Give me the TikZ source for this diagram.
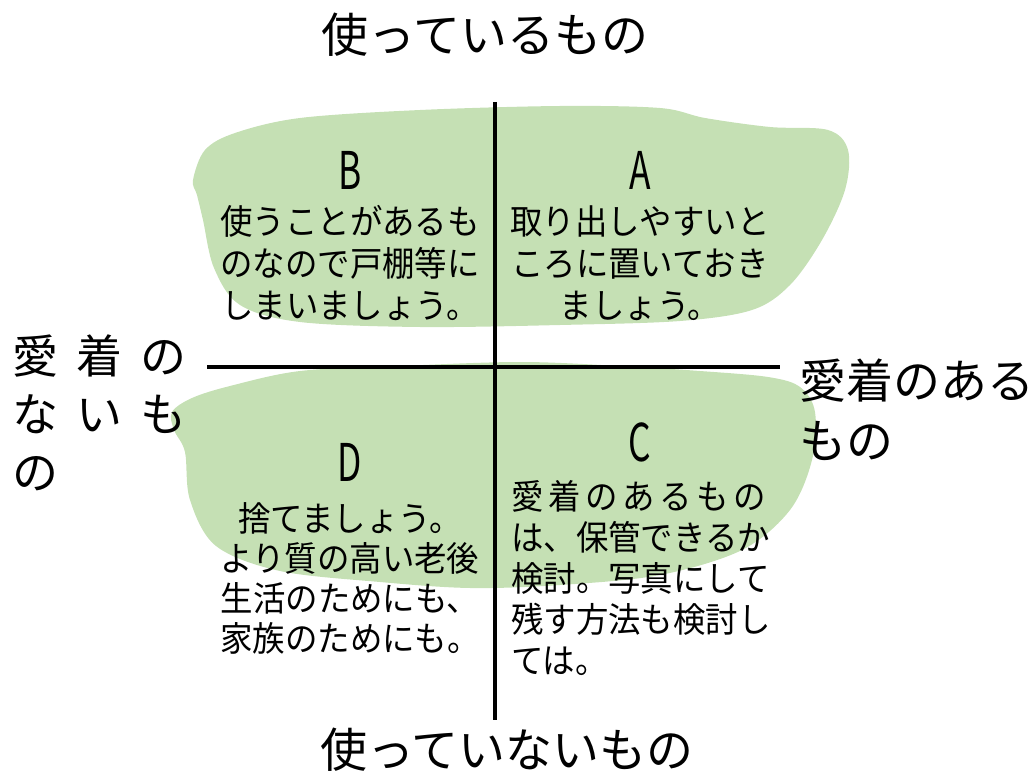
\documentclass[tikz,border=0pt]{standalone}
\usepackage{fontspec}
\newfontfamily\jp{Noto Sans CJK JP}
\newfontfamily\jpbox[FakeStretch=0.94]{Noto Sans CJK JP}
\newfontfamily\letterfont[FakeStretch=0.68]{Noto Sans CJK JP}
\definecolor{blobgreen}{HTML}{C5E0B4}
\begin{document}
\begin{tikzpicture}[x=1pt,y=-1pt,
  blob/.style={fill=blobgreen,draw=none},
  axis/.style={line width=3.5pt,black},
  title/.style={font=\jp\fontsize{47}{60}\selectfont,inner sep=0pt},
  letter/.style={font=\letterfont\fontsize{52}{52}\selectfont,inner sep=0pt},
  boxtext/.style={font=\jpbox\fontsize{34.5}{42}\selectfont,inner sep=0pt}]
\useasboundingbox (0,0) rectangle (1035,775);
% blobs
\fill[blob] plot[smooth cycle,tension=0.55] coordinates {
 (205,150) (235,133) (300,118) (420,110) (560,106) (660,108) (705,118)
 (770,127) (828,130) (848,150) (845,190) (822,240) (790,285) (752,310)
 (680,321) (560,325) (420,327) (300,322) (240,305) (214,268) (203,220)
 (197,195) (193,180)};
\fill[blob] plot[smooth cycle,tension=0.55] coordinates {
 (230,386) (300,371) (400,366) (520,362) (620,366) (700,371) (768,377)
 (800,387) (815,412) (812,460) (790,510) (742,550) (660,575) (560,585)
 (470,588) (380,582) (280,571) (216,546) (190,500) (185,452) (174,430)
 (172,412) (192,398)};
% axes
\coordinate (vtop) at (495,102);
\coordinate (vbot) at (495,720);
\coordinate (hleft) at (207,367);
\coordinate (hright) at (780,367);
\draw[axis] (vtop) -- (vbot);
\draw[axis] (hleft) -- (hright);
% axis labels
\node[title] (top) at (485,35) {使っているもの};
\node[title] (bottom) at (507,750) {使っていないもの};
\node[title,anchor=west,align=left] (right) at (799,410) {愛着のある\\もの};
\node[title,anchor=west,align=left,font=\jp\fontsize{46}{58}\selectfont] (left) at (12,413)
  {愛\hspace{18pt}着\hspace{18pt}の\\な\hspace{18pt}い\hspace{18pt}も\\の};
% quadrant letters
\node[letter] (lA) at (640,170) {A};
\node[letter] (lB) at (350,170) {B};
\node[letter] (lC) at (640,442) {C};
\node[letter] (lD) at (350,462) {D};
% quadrant texts
\node[boxtext,align=center] (tB) at (350,263)
  {使うことがあるも\\のなので戸棚等に\\しまいましょう。};
\node[boxtext,align=center] (tA) at (640,263)
  {取り出しやすいと\\ころに置いておき\\ましょう。};
\node[boxtext,align=center,font=\jpbox\fontsize{34.5}{40}\selectfont] (tD) at (350,578)
  {捨てましょう。\\より質の高い老後\\生活のためにも、\\家族のためにも。};
\node[boxtext,align=left,anchor=west,font=\jpbox\fontsize{34.5}{41.2}\selectfont] (tC) at (511,578)
  {\makebox[255pt][s]{愛\hfil 着\hfil の\hfil あ\hfil る\hfil も\hfil の}\\は、保管できるか\\検討。写真にして\\残す方法も検討し\\ては。};
\end{tikzpicture}
\end{document}
